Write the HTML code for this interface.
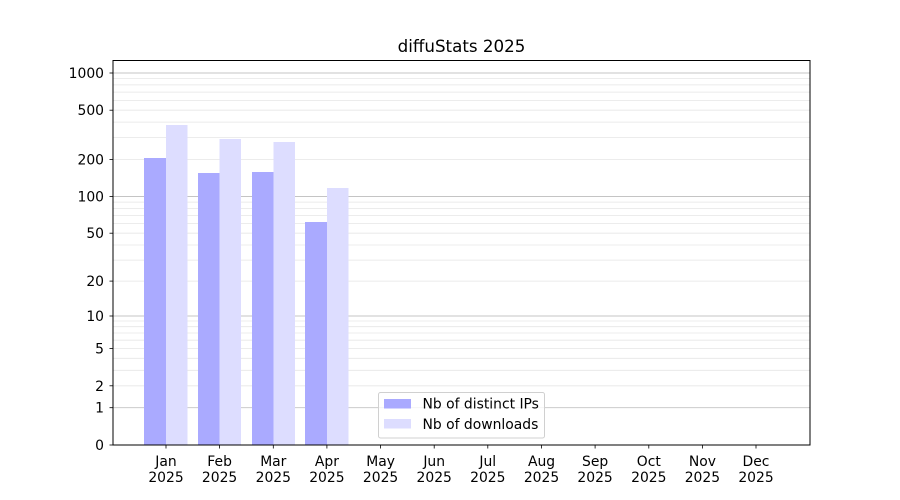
<!DOCTYPE html>
<html><head><meta charset="utf-8"><style>
html,body{margin:0;padding:0;background:#fff;}
svg{display:block;font-family:"DejaVu Sans","Liberation Sans",sans-serif;}
</style></head><body>
<svg width="900" height="500" viewBox="0 0 900 500" xmlns="http://www.w3.org/2000/svg">
<rect width="900" height="500" fill="#fff"/>
<text x="461.5" y="52" font-size="16.7" text-anchor="middle">diffuStats 2025</text>
<g stroke="#e6e6e6" stroke-width="0.8">
<line x1="113" x2="810" y1="385.8" y2="385.8"/><line x1="113" x2="810" y1="370.3" y2="370.3"/>
<line x1="113" x2="810" y1="358.3" y2="358.3"/><line x1="113" x2="810" y1="348.5" y2="348.5"/>
<line x1="113" x2="810" y1="340.2" y2="340.2"/><line x1="113" x2="810" y1="333" y2="333"/>
<line x1="113" x2="810" y1="326.7" y2="326.7"/><line x1="113" x2="810" y1="321" y2="321"/>
<line x1="113" x2="810" y1="281.1" y2="281.1"/><line x1="113" x2="810" y1="260.1" y2="260.1"/>
<line x1="113" x2="810" y1="245" y2="245"/><line x1="113" x2="810" y1="233.2" y2="233.2"/>
<line x1="113" x2="810" y1="223.6" y2="223.6"/><line x1="113" x2="810" y1="215.4" y2="215.4"/>
<line x1="113" x2="810" y1="208.4" y2="208.4"/><line x1="113" x2="810" y1="202.1" y2="202.1"/>
<line x1="113" x2="810" y1="159.4" y2="159.4"/><line x1="113" x2="810" y1="137.6" y2="137.6"/>
<line x1="113" x2="810" y1="122.1" y2="122.1"/><line x1="113" x2="810" y1="110.2" y2="110.2"/>
<line x1="113" x2="810" y1="100.4" y2="100.4"/><line x1="113" x2="810" y1="92.1" y2="92.1"/>
<line x1="113" x2="810" y1="84.9" y2="84.9"/><line x1="113" x2="810" y1="78.6" y2="78.6"/>
</g>
<g stroke="#c4c4c4" stroke-width="0.9">
<line x1="113" x2="810" y1="407.7" y2="407.7"/><line x1="113" x2="810" y1="316" y2="316"/>
<line x1="113" x2="810" y1="196.5" y2="196.5"/><line x1="113" x2="810" y1="73" y2="73"/>
</g>
<g fill="#aaaaff">
<rect x="144" y="158" width="22" height="287"/>
<rect x="198" y="173" width="21.5" height="272"/>
<rect x="252" y="172" width="21.5" height="273"/>
<rect x="305" y="222" width="22" height="223"/>
</g>
<g fill="#ddddff">
<rect x="166" y="125" width="21.5" height="320"/>
<rect x="219.5" y="139" width="21.5" height="306"/>
<rect x="273.5" y="142" width="21.5" height="303"/>
<rect x="327" y="188" width="21.5" height="257"/>
</g>
<rect x="113" y="60.5" width="697" height="384.5" fill="none" stroke="#000" stroke-width="1"/>
<g stroke="#000" stroke-width="0.8">
<line x1="109.5" x2="113" y1="445" y2="445"/><line x1="109.5" x2="113" y1="407.7" y2="407.7"/>
<line x1="109.5" x2="113" y1="385.8" y2="385.8"/><line x1="109.5" x2="113" y1="348.5" y2="348.5"/>
<line x1="109.5" x2="113" y1="316" y2="316"/><line x1="109.5" x2="113" y1="281.1" y2="281.1"/>
<line x1="109.5" x2="113" y1="233.2" y2="233.2"/><line x1="109.5" x2="113" y1="196.5" y2="196.5"/>
<line x1="109.5" x2="113" y1="159.4" y2="159.4"/><line x1="109.5" x2="113" y1="110.2" y2="110.2"/>
<line x1="109.5" x2="113" y1="73" y2="73"/>
</g>
<g font-size="13.9" text-anchor="end">
<text x="104" y="450">0</text><text x="104" y="412.7">1</text><text x="104" y="390.8">2</text>
<text x="104" y="353.5">5</text><text x="104" y="321">10</text><text x="104" y="286.1">20</text>
<text x="104" y="238.2">50</text><text x="104" y="201.5">100</text><text x="104" y="164.4">200</text>
<text x="104" y="115.2">500</text><text x="104" y="78">1000</text>
</g>
<g stroke="#000" stroke-width="0.8">
<line x1="166" x2="166" y1="445" y2="448.5"/><line x1="219.6" x2="219.6" y1="445" y2="448.5"/>
<line x1="273.3" x2="273.3" y1="445" y2="448.5"/><line x1="326.9" x2="326.9" y1="445" y2="448.5"/>
<line x1="380.6" x2="380.6" y1="445" y2="448.5"/><line x1="434.2" x2="434.2" y1="445" y2="448.5"/>
<line x1="487.8" x2="487.8" y1="445" y2="448.5"/><line x1="541.5" x2="541.5" y1="445" y2="448.5"/>
<line x1="595.1" x2="595.1" y1="445" y2="448.5"/><line x1="648.8" x2="648.8" y1="445" y2="448.5"/>
<line x1="702.4" x2="702.4" y1="445" y2="448.5"/><line x1="756" x2="756" y1="445" y2="448.5"/>
</g>
<g font-size="13.9" text-anchor="middle">
<text x="166" y="466">Jan</text><text x="166" y="482">2025</text>
<text x="219.6" y="466">Feb</text><text x="219.6" y="482">2025</text>
<text x="273.3" y="466">Mar</text><text x="273.3" y="482">2025</text>
<text x="326.9" y="466">Apr</text><text x="326.9" y="482">2025</text>
<text x="380.6" y="466">May</text><text x="380.6" y="482">2025</text>
<text x="434.2" y="466">Jun</text><text x="434.2" y="482">2025</text>
<text x="487.8" y="466">Jul</text><text x="487.8" y="482">2025</text>
<text x="541.5" y="466">Aug</text><text x="541.5" y="482">2025</text>
<text x="595.1" y="466">Sep</text><text x="595.1" y="482">2025</text>
<text x="648.8" y="466">Oct</text><text x="648.8" y="482">2025</text>
<text x="702.4" y="466">Nov</text><text x="702.4" y="482">2025</text>
<text x="756" y="466">Dec</text><text x="756" y="482">2025</text>
</g>
<rect x="378.5" y="392.5" width="166" height="45.5" rx="2" fill="#fff" fill-opacity="0.8" stroke="#d0d0d0"/>
<rect x="384" y="399" width="27" height="9.5" fill="#aaaaff"/>
<rect x="384" y="419" width="27" height="9.5" fill="#ddddff"/>
<g font-size="13.9"><text x="422.5" y="408.5">Nb of distinct IPs</text><text x="422.5" y="429">Nb of downloads</text></g>
</svg>
</body></html>
